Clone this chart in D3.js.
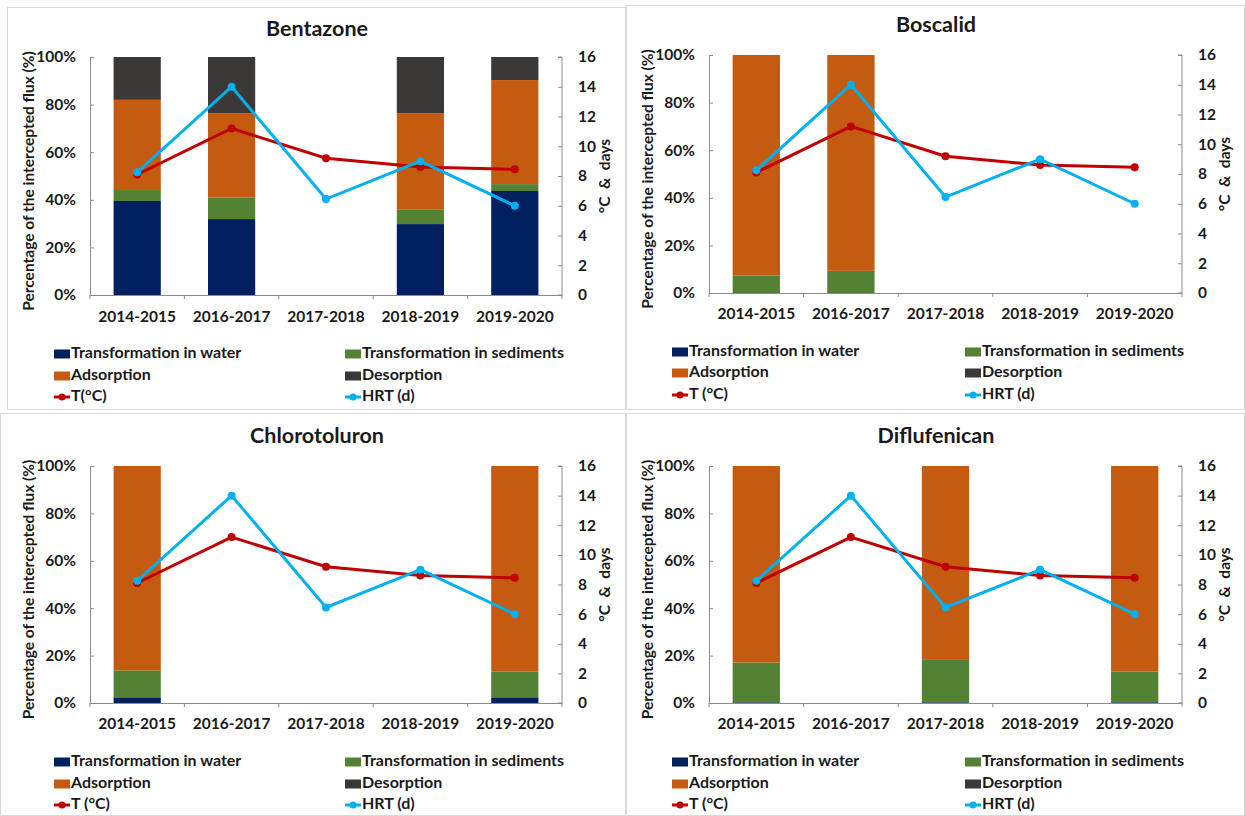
<!DOCTYPE html>
<html><head><meta charset="utf-8">
<script src="https://cdn.jsdelivr.net/npm/d3@7"></script>
<style>
body{margin:0;background:#fff;}
svg{display:block;font-family:Lato,"Open Sans",sans-serif;font-weight:bold;}
</style></head>
<body><svg id="c" width="1245" height="816"></svg>
<script>
const categories = ["2014-2015","2016-2017","2017-2018","2018-2019","2019-2020"];
const temperature = [8.1, 11.2, 9.2, 8.6, 8.45];
const hrt = [8.25, 14.0, 6.45, 9.0, 6.0];
const leftTicks = [0,20,40,60,80,100];
const rightTicks = [0,2,4,6,8,10,12,14,16];
const seriesNames = ["Transformation in water","Transformation in sediments","Adsorption","Desorption"];

const bentazoneWater      = [39.5, 31.9, 0, 29.8, 43.7];
const bentazoneSediments  = [4.6, 9.0, 0, 6.0, 2.9];
const bentazoneAdsorption = [37.9, 35.5, 0, 40.6, 43.7];
const bentazoneDesorption = [18.0, 23.6, 0, 23.6, 9.7];

const boscalidWater      = [0, 0, 0, 0, 0];
const boscalidSediments  = [7.4, 9.3, 0, 0, 0];
const boscalidAdsorption = [92.6, 90.7, 0, 0, 0];
const boscalidDesorption = [0, 0, 0, 0, 0];

const chlorotoluronWater      = [2.4, 0, 0, 0, 2.4];
const chlorotoluronSediments  = [11.4, 0, 0, 0, 10.9];
const chlorotoluronAdsorption = [86.2, 0, 0, 0, 86.7];
const chlorotoluronDesorption = [0, 0, 0, 0, 0];

const diflufenicanWater      = [0.3, 0, 0.3, 0, 0.3];
const diflufenicanSediments  = [16.8, 0, 18.2, 0, 13.0];
const diflufenicanAdsorption = [82.9, 0, 81.5, 0, 86.7];
const diflufenicanDesorption = [0, 0, 0, 0, 0];

const colors = ["#002060","#548235","#C55A11","#3B3838"];
const tColor = "#C00000", hColor = "#00B0F0", axisColor = "#8c8c8c";

const panels = [
  {title:"Bentazone", tLabel:"T(°C)", series:[bentazoneWater,bentazoneSediments,bentazoneAdsorption,bentazoneDesorption],
   x0:90,x1:562,y0:57,y1:295,tx:317,ty:30,catY:317,legY:[354,376,397],legX:[54,345],lx:30,rx:606,border:[7,7,626,410]},
  {title:"Boscalid", tLabel:"T (°C)", series:[boscalidWater,boscalidSediments,boscalidAdsorption,boscalidDesorption],
   x0:709,x1:1182,y0:55,y1:293,tx:936,ty:26,catY:314,legY:[352,373,395],legX:[672,965],lx:649,rx:1226,border:[626,5,1245,410]},
  {title:"Chlorotoluron", tLabel:"T (°C)", series:[chlorotoluronWater,chlorotoluronSediments,chlorotoluronAdsorption,chlorotoluronDesorption],
   x0:90,x1:562,y0:466,y1:703,tx:317,ty:437,catY:724,legY:[762,784,805],legX:[54,345],lx:30,rx:606,border:[0,413,626,816]},
  {title:"Diflufenican", tLabel:"T (°C)", series:[diflufenicanWater,diflufenicanSediments,diflufenicanAdsorption,diflufenicanDesorption],
   x0:709,x1:1182,y0:466,y1:703,tx:936,ty:437,catY:724,legY:[762,784,805],legX:[672,965],lx:649,rx:1226,border:[626,413,1245,816]}
];

const svg = d3.select("#c");

panels.forEach(p => {
  const g = svg.append("g");
  g.append("rect").attr("x",p.border[0]+0.5).attr("y",p.border[1]+0.5)
    .attr("width",p.border[2]-p.border[0]-1).attr("height",p.border[3]-p.border[1]-1)
    .attr("fill","#fff").attr("stroke","#d9d9d9").attr("stroke-width",1);

  const x = d3.scaleBand().domain(categories).range([p.x0,p.x1]).paddingInner(0.5).paddingOuter(0.25);
  const xc = d3.scaleBand().domain(categories).range([p.x0,p.x1]);
  const y = d3.scaleLinear().domain([0,100]).range([p.y1,p.y0]);
  const y2 = d3.scaleLinear().domain([0,16]).range([p.y1,p.y0]);

  // stacked bars
  const rows = categories.map((c,i)=>{const o={cat:c}; p.series.forEach((s,k)=>o["s"+k]=s[i]); return o;});
  const stack = d3.stack().keys(p.series.map((s,k)=>"s"+k))(rows);
  stack.forEach((layer,k)=>{
    g.append("g").selectAll("rect").data(layer).join("rect")
      .attr("x",d=>x(d.data.cat)).attr("width",x.bandwidth())
      .attr("y",d=>y(d[1])).attr("height",d=>Math.max(0,y(d[0])-y(d[1])))
      .attr("fill",colors[k]);
  });

  // left axis
  const la = g.append("g").attr("transform",`translate(${p.x0},0)`)
    .call(d3.axisLeft(y).tickValues(leftTicks).tickFormat(d=>d+"%").tickSizeInner(-4).tickSizeOuter(-4).tickPadding(14));
  // right axis
  const ra = g.append("g").attr("transform",`translate(${p.x1},0)`)
    .call(d3.axisRight(y2).tickValues(rightTicks).tickSizeInner(-4).tickSizeOuter(-4).tickPadding(16));
  // bottom axis
  const ba = g.append("g").attr("transform",`translate(0,${p.y1})`)
    .call(d3.axisBottom(xc).tickSize(0).tickPadding(p.catY-p.y1));
  g.append("g").selectAll("line").data(categories.concat(["end"])).join("line")
    .attr("x1",(d,i)=>p.x0+i*xc.step()).attr("x2",(d,i)=>p.x0+i*xc.step())
    .attr("y1",p.y1).attr("y2",p.y1+4).attr("stroke",axisColor);
  [la,ra,ba].forEach(a=>{
    a.selectAll("path,line").attr("stroke",axisColor);
    a.selectAll("text").attr("fill","#1a1a1a").attr("font-size",15.5).attr("font-family","Lato, sans-serif").attr("font-weight","bold");
  });
  ba.selectAll("text").attr("dy","0.35em").attr("y",p.catY-p.y1);
  ra.select(".domain").attr("d",`M-4,${p.y1}H0V${p.y0}H-4`);

  // lines
  const cx = d => xc(d)+xc.bandwidth()/2;
  const lineT = d3.line().x((d,i)=>cx(categories[i])).y(d=>y2(d));
  g.append("path").attr("d",lineT(temperature)).attr("fill","none").attr("stroke",tColor).attr("stroke-width",3);
  g.append("g").selectAll("circle").data(temperature).join("circle")
    .attr("cx",(d,i)=>cx(categories[i])).attr("cy",d=>y2(d)).attr("r",4).attr("fill",tColor);
  g.append("path").attr("d",lineT(hrt)).attr("fill","none").attr("stroke",hColor).attr("stroke-width",3);
  g.append("g").selectAll("circle").data(hrt).join("circle")
    .attr("cx",(d,i)=>cx(categories[i])).attr("cy",d=>y2(d)).attr("r",4).attr("fill",hColor);

  // title
  g.append("text").attr("x",p.tx).attr("y",p.ty).attr("text-anchor","middle").attr("dominant-baseline","middle")
    .attr("font-size",21.5).attr("fill","#1a1a1a").text(p.title);
  // axis titles
  g.append("text").attr("transform",`translate(${p.lx},${(p.y0+p.y1)/2+5}) rotate(-90)`)
    .attr("text-anchor","middle").attr("dominant-baseline","middle").attr("font-size",15.5).attr("fill","#1a1a1a")
    .text("Percentage of the intercepted flux (%)");
  g.append("text").attr("transform",`translate(${p.rx},${(p.y0+p.y1)/2}) rotate(-90)`)
    .attr("text-anchor","middle").attr("dominant-baseline","middle").attr("font-size",15.5).attr("fill","#1a1a1a")
    .attr("xml:space","preserve").text("°C  &  days");

  // legend
  const legItems = [
    {t:seriesNames[0],c:colors[0],col:0,row:0,type:"bar"},
    {t:seriesNames[1],c:colors[1],col:1,row:0,type:"bar"},
    {t:seriesNames[2],c:colors[2],col:0,row:1,type:"bar"},
    {t:seriesNames[3],c:colors[3],col:1,row:1,type:"bar"},
    {t:p.tLabel,c:tColor,col:0,row:2,type:"line"},
    {t:"HRT (d)",c:hColor,col:1,row:2,type:"line"}
  ];
  legItems.forEach(it=>{
    const lx = p.legX[it.col], ly = p.legY[it.row];
    if(it.type==="bar"){
      g.append("rect").attr("x",lx).attr("y",ly-4.5).attr("width",16).attr("height",9).attr("fill",it.c);
    } else {
      g.append("line").attr("x1",lx).attr("x2",lx+16).attr("y1",ly).attr("y2",ly).attr("stroke",it.c).attr("stroke-width",3);
      g.append("circle").attr("cx",lx+8).attr("cy",ly).attr("r",3.5).attr("fill",it.c);
    }
    g.append("text").attr("x",lx+17).attr("y",ly).attr("dominant-baseline","middle")
      .attr("font-size",16).attr("fill","#1a1a1a").text(it.t);
  });
});
</script></body></html>
